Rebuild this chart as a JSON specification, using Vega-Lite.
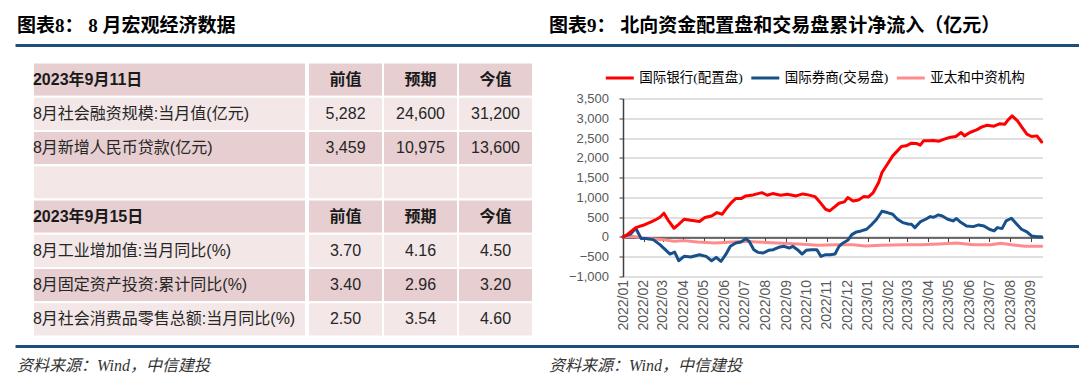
{
  "$schema": "https://vega.github.io/schema/vega-lite/v6.json",
  "padding": {"left": 15, "top": 8, "right": 0, "bottom": 0},
  "background": "white",
  "config": {"view": {"stroke": null}},
  "spacing": 8.5,
  "datasets": {
    "hdr": [
      {"p": "a", "t": "图表8： 8 月宏观经济数据"},
      {"p": "b", "t": "图表9： 北向资金配置盘和交易盘累计净流入（亿元）"}
    ],
    "ftr": [
      {"p": "a", "t": "资料来源：Wind，中信建投"},
      {"p": "b", "t": "资料来源：Wind，中信建投"}
    ],
    "cells": [
      {"r": 1, "c": "a", "t": "2023年9月11日", "h": 1}, {"r": 1, "c": "b", "t": "前值", "h": 1}, {"r": 1, "c": "c", "t": "预期", "h": 1}, {"r": 1, "c": "d", "t": "今值", "h": 1},
      {"r": 2, "c": "a", "t": "8月社会融资规模:当月值(亿元)"}, {"r": 2, "c": "b", "t": "5,282"}, {"r": 2, "c": "c", "t": "24,600"}, {"r": 2, "c": "d", "t": "31,200"},
      {"r": 3, "c": "a", "t": "8月新增人民币贷款(亿元)"}, {"r": 3, "c": "b", "t": "3,459"}, {"r": 3, "c": "c", "t": "10,975"}, {"r": 3, "c": "d", "t": "13,600"},
      {"r": 4, "c": "a", "t": ""}, {"r": 4, "c": "b", "t": ""}, {"r": 4, "c": "c", "t": ""}, {"r": 4, "c": "d", "t": ""},
      {"r": 5, "c": "a", "t": "2023年9月15日", "h": 1}, {"r": 5, "c": "b", "t": "前值", "h": 1}, {"r": 5, "c": "c", "t": "预期", "h": 1}, {"r": 5, "c": "d", "t": "今值", "h": 1},
      {"r": 6, "c": "a", "t": "8月工业增加值:当月同比(%)"}, {"r": 6, "c": "b", "t": "3.70"}, {"r": 6, "c": "c", "t": "4.16"}, {"r": 6, "c": "d", "t": "4.50"},
      {"r": 7, "c": "a", "t": "8月固定资产投资:累计同比(%)"}, {"r": 7, "c": "b", "t": "3.40"}, {"r": 7, "c": "c", "t": "2.96"}, {"r": 7, "c": "d", "t": "3.20"},
      {"r": 8, "c": "a", "t": "8月社会消费品零售总额:当月同比(%)"}, {"r": 8, "c": "b", "t": "2.50"}, {"r": 8, "c": "c", "t": "3.54"}, {"r": 8, "c": "d", "t": "4.60"}
    ],
    "flows": [
      {"d": "2022-01-01", "s": "亚太和中资机构", "v": 0},
      {"d": "2022-01-15", "s": "亚太和中资机构", "v": 17},
      {"d": "2022-02-04", "s": "亚太和中资机构", "v": -42},
      {"d": "2022-03-02", "s": "亚太和中资机构", "v": -68},
      {"d": "2022-03-18", "s": "亚太和中资机构", "v": -110},
      {"d": "2022-04-02", "s": "亚太和中资机构", "v": -93},
      {"d": "2022-04-22", "s": "亚太和中资机构", "v": -127},
      {"d": "2022-05-18", "s": "亚太和中资机构", "v": -152},
      {"d": "2022-06-13", "s": "亚太和中资机构", "v": -127},
      {"d": "2022-07-03", "s": "亚太和中资机构", "v": -110},
      {"d": "2022-07-19", "s": "亚太和中资机构", "v": -127},
      {"d": "2022-08-19", "s": "亚太和中资机构", "v": -152},
      {"d": "2022-09-18", "s": "亚太和中资机构", "v": -178},
      {"d": "2022-10-19", "s": "亚太和中资机构", "v": -212},
      {"d": "2022-11-14", "s": "亚太和中资机构", "v": -195},
      {"d": "2022-12-10", "s": "亚太和中资机构", "v": -195},
      {"d": "2022-12-28", "s": "亚太和中资机构", "v": -229},
      {"d": "2023-01-20", "s": "亚太和中资机构", "v": -212},
      {"d": "2023-02-25", "s": "亚太和中资机构", "v": -195},
      {"d": "2023-03-22", "s": "亚太和中资机构", "v": -195},
      {"d": "2023-04-17", "s": "亚太和中资机构", "v": -178},
      {"d": "2023-05-13", "s": "亚太和中资机构", "v": -152},
      {"d": "2023-06-07", "s": "亚太和中资机构", "v": -195},
      {"d": "2023-07-03", "s": "亚太和中资机构", "v": -195},
      {"d": "2023-07-18", "s": "亚太和中资机构", "v": -161},
      {"d": "2023-08-03", "s": "亚太和中资机构", "v": -195},
      {"d": "2023-08-23", "s": "亚太和中资机构", "v": -237},
      {"d": "2023-09-17", "s": "亚太和中资机构", "v": -237},

      {"d": "2022-01-01", "s": "国际券商(交易盘)", "v": 0},
      {"d": "2022-01-12", "s": "国际券商(交易盘)", "v": 70},
      {"d": "2022-01-20", "s": "国际券商(交易盘)", "v": 220},
      {"d": "2022-01-28", "s": "国际券商(交易盘)", "v": -40},
      {"d": "2022-02-04", "s": "国际券商(交易盘)", "v": -40},
      {"d": "2022-02-15", "s": "国际券商(交易盘)", "v": -68},
      {"d": "2022-02-25", "s": "国际券商(交易盘)", "v": -195},
      {"d": "2022-03-05", "s": "国际券商(交易盘)", "v": -322},
      {"d": "2022-03-12", "s": "国际券商(交易盘)", "v": -432},
      {"d": "2022-03-19", "s": "国际券商(交易盘)", "v": -381},
      {"d": "2022-03-25", "s": "国际券商(交易盘)", "v": -601},
      {"d": "2022-04-02", "s": "国际券商(交易盘)", "v": -491},
      {"d": "2022-04-12", "s": "国际券商(交易盘)", "v": -508},
      {"d": "2022-04-25", "s": "国际券商(交易盘)", "v": -449},
      {"d": "2022-05-05", "s": "国际券商(交易盘)", "v": -491},
      {"d": "2022-05-13", "s": "国际券商(交易盘)", "v": -601},
      {"d": "2022-05-20", "s": "国际券商(交易盘)", "v": -517},
      {"d": "2022-05-27", "s": "国际券商(交易盘)", "v": -618},
      {"d": "2022-06-03", "s": "国际券商(交易盘)", "v": -449},
      {"d": "2022-06-10", "s": "国际券商(交易盘)", "v": -237},
      {"d": "2022-06-18", "s": "国际券商(交易盘)", "v": -152},
      {"d": "2022-06-26", "s": "国际券商(交易盘)", "v": -127},
      {"d": "2022-07-03", "s": "国际券商(交易盘)", "v": -42},
      {"d": "2022-07-08", "s": "国际券商(交易盘)", "v": -110},
      {"d": "2022-07-15", "s": "国际券商(交易盘)", "v": -322},
      {"d": "2022-07-21", "s": "国际券商(交易盘)", "v": -390},
      {"d": "2022-07-29", "s": "国际券商(交易盘)", "v": -406},
      {"d": "2022-08-06", "s": "国际券商(交易盘)", "v": -339},
      {"d": "2022-08-13", "s": "国际券商(交易盘)", "v": -322},
      {"d": "2022-08-21", "s": "国际券商(交易盘)", "v": -263},
      {"d": "2022-08-29", "s": "国际券商(交易盘)", "v": -237},
      {"d": "2022-09-06", "s": "国际券商(交易盘)", "v": -280},
      {"d": "2022-09-11", "s": "国际券商(交易盘)", "v": -237},
      {"d": "2022-09-18", "s": "国际券商(交易盘)", "v": -322},
      {"d": "2022-09-25", "s": "国际券商(交易盘)", "v": -432},
      {"d": "2022-10-01", "s": "国际券商(交易盘)", "v": -339},
      {"d": "2022-10-09", "s": "国际券商(交易盘)", "v": -322},
      {"d": "2022-10-17", "s": "国际券商(交易盘)", "v": -322},
      {"d": "2022-10-23", "s": "国际券商(交易盘)", "v": -491},
      {"d": "2022-10-30", "s": "国际券商(交易盘)", "v": -449},
      {"d": "2022-11-06", "s": "国际券商(交易盘)", "v": -449},
      {"d": "2022-11-13", "s": "国际券商(交易盘)", "v": -432},
      {"d": "2022-11-19", "s": "国际券商(交易盘)", "v": -237},
      {"d": "2022-11-25", "s": "国际券商(交易盘)", "v": -152},
      {"d": "2022-12-02", "s": "国际券商(交易盘)", "v": -85},
      {"d": "2022-12-08", "s": "国际券商(交易盘)", "v": 59},
      {"d": "2022-12-15", "s": "国际券商(交易盘)", "v": 127},
      {"d": "2022-12-22", "s": "国际券商(交易盘)", "v": 152},
      {"d": "2022-12-30", "s": "国际券商(交易盘)", "v": 194},
      {"d": "2023-01-07", "s": "国际券商(交易盘)", "v": 320},
      {"d": "2023-01-14", "s": "国际券商(交易盘)", "v": 447},
      {"d": "2023-01-22", "s": "国际券商(交易盘)", "v": 650},
      {"d": "2023-01-30", "s": "国际券商(交易盘)", "v": 616},
      {"d": "2023-02-07", "s": "国际券商(交易盘)", "v": 574},
      {"d": "2023-02-14", "s": "国际券商(交易盘)", "v": 447},
      {"d": "2023-02-22", "s": "国际券商(交易盘)", "v": 363},
      {"d": "2023-03-02", "s": "国际券商(交易盘)", "v": 329},
      {"d": "2023-03-07", "s": "国际券商(交易盘)", "v": 320},
      {"d": "2023-03-12", "s": "国际券商(交易盘)", "v": 236},
      {"d": "2023-03-20", "s": "国际券商(交易盘)", "v": 380},
      {"d": "2023-03-28", "s": "国际券商(交易盘)", "v": 447},
      {"d": "2023-04-04", "s": "国际券商(交易盘)", "v": 514},
      {"d": "2023-04-09", "s": "国际券商(交易盘)", "v": 498},
      {"d": "2023-04-16", "s": "国际券商(交易盘)", "v": 557},
      {"d": "2023-04-22", "s": "国际券商(交易盘)", "v": 531},
      {"d": "2023-04-30", "s": "国际券商(交易盘)", "v": 447},
      {"d": "2023-05-08", "s": "国际券商(交易盘)", "v": 405},
      {"d": "2023-05-13", "s": "国际券商(交易盘)", "v": 464},
      {"d": "2023-05-20", "s": "国际券商(交易盘)", "v": 363},
      {"d": "2023-05-28", "s": "国际券商(交易盘)", "v": 278},
      {"d": "2023-06-07", "s": "国际券商(交易盘)", "v": 261},
      {"d": "2023-06-15", "s": "国际券商(交易盘)", "v": 304},
      {"d": "2023-06-23", "s": "国际券商(交易盘)", "v": 278},
      {"d": "2023-07-01", "s": "国际券商(交易盘)", "v": 194},
      {"d": "2023-07-08", "s": "国际券商(交易盘)", "v": 152},
      {"d": "2023-07-13", "s": "国际券商(交易盘)", "v": 236},
      {"d": "2023-07-20", "s": "国际券商(交易盘)", "v": 211},
      {"d": "2023-07-26", "s": "国际券商(交易盘)", "v": 405},
      {"d": "2023-08-03", "s": "国际券商(交易盘)", "v": 472},
      {"d": "2023-08-11", "s": "国际券商(交易盘)", "v": 320},
      {"d": "2023-08-18", "s": "国际券商(交易盘)", "v": 194},
      {"d": "2023-08-26", "s": "国际券商(交易盘)", "v": 127},
      {"d": "2023-09-02", "s": "国际券商(交易盘)", "v": 25},
      {"d": "2023-09-10", "s": "国际券商(交易盘)", "v": 8},
      {"d": "2023-09-17", "s": "国际券商(交易盘)", "v": 8},

      {"d": "2022-01-01", "s": "国际银行(配置盘)", "v": 0},
      {"d": "2022-01-08", "s": "国际银行(配置盘)", "v": 70},
      {"d": "2022-01-20", "s": "国际银行(配置盘)", "v": 236},
      {"d": "2022-01-31", "s": "国际银行(配置盘)", "v": 295},
      {"d": "2022-02-12", "s": "国际银行(配置盘)", "v": 380},
      {"d": "2022-02-20", "s": "国际银行(配置盘)", "v": 447},
      {"d": "2022-02-25", "s": "国际银行(配置盘)", "v": 498},
      {"d": "2022-03-03", "s": "国际银行(配置盘)", "v": 600},
      {"d": "2022-03-10", "s": "国际银行(配置盘)", "v": 405},
      {"d": "2022-03-18", "s": "国际银行(配置盘)", "v": 220},
      {"d": "2022-03-25", "s": "国际银行(配置盘)", "v": 320},
      {"d": "2022-04-02", "s": "国际银行(配置盘)", "v": 447},
      {"d": "2022-04-12", "s": "国际银行(配置盘)", "v": 420},
      {"d": "2022-04-25", "s": "国际银行(配置盘)", "v": 390},
      {"d": "2022-05-03", "s": "国际银行(配置盘)", "v": 490},
      {"d": "2022-05-13", "s": "国际银行(配置盘)", "v": 530},
      {"d": "2022-05-21", "s": "国际银行(配置盘)", "v": 615},
      {"d": "2022-05-29", "s": "国际银行(配置盘)", "v": 575},
      {"d": "2022-06-05", "s": "国际银行(配置盘)", "v": 740},
      {"d": "2022-06-13", "s": "国际银行(配置盘)", "v": 895},
      {"d": "2022-06-18", "s": "国际银行(配置盘)", "v": 970},
      {"d": "2022-06-26", "s": "国际银行(配置盘)", "v": 970},
      {"d": "2022-07-03", "s": "国际银行(配置盘)", "v": 1037},
      {"d": "2022-07-14", "s": "国际银行(配置盘)", "v": 1063},
      {"d": "2022-07-27", "s": "国际银行(配置盘)", "v": 1120},
      {"d": "2022-08-04", "s": "国际银行(配置盘)", "v": 1054},
      {"d": "2022-08-12", "s": "国际银行(配置盘)", "v": 1096},
      {"d": "2022-08-24", "s": "国际银行(配置盘)", "v": 1054},
      {"d": "2022-09-03", "s": "国际银行(配置盘)", "v": 1080},
      {"d": "2022-09-16", "s": "国际银行(配置盘)", "v": 1037},
      {"d": "2022-09-26", "s": "国际银行(配置盘)", "v": 1088},
      {"d": "2022-10-04", "s": "国际银行(配置盘)", "v": 1063},
      {"d": "2022-10-14", "s": "国际银行(配置盘)", "v": 1020},
      {"d": "2022-10-22", "s": "国际银行(配置盘)", "v": 869},
      {"d": "2022-10-30", "s": "国际银行(配置盘)", "v": 700},
      {"d": "2022-11-05", "s": "国际银行(配置盘)", "v": 658},
      {"d": "2022-11-11", "s": "国际银行(配置盘)", "v": 742},
      {"d": "2022-11-19", "s": "国际银行(配置盘)", "v": 852},
      {"d": "2022-11-27", "s": "国际银行(配置盘)", "v": 886},
      {"d": "2022-12-02", "s": "国际银行(配置盘)", "v": 995},
      {"d": "2022-12-10", "s": "国际银行(配置盘)", "v": 911},
      {"d": "2022-12-18", "s": "国际银行(配置盘)", "v": 936},
      {"d": "2022-12-26", "s": "国际银行(配置盘)", "v": 1020},
      {"d": "2023-01-02", "s": "国际银行(配置盘)", "v": 1012},
      {"d": "2023-01-09", "s": "国际银行(配置盘)", "v": 1122},
      {"d": "2023-01-17", "s": "国际银行(配置盘)", "v": 1375},
      {"d": "2023-01-22", "s": "国际银行(配置盘)", "v": 1628},
      {"d": "2023-01-30", "s": "国际银行(配置盘)", "v": 1839},
      {"d": "2023-02-07", "s": "国际银行(配置盘)", "v": 2049},
      {"d": "2023-02-14", "s": "国际银行(配置盘)", "v": 2176},
      {"d": "2023-02-20", "s": "国际银行(配置盘)", "v": 2286},
      {"d": "2023-02-27", "s": "国际银行(配置盘)", "v": 2303},
      {"d": "2023-03-07", "s": "国际银行(配置盘)", "v": 2370},
      {"d": "2023-03-15", "s": "国际银行(配置盘)", "v": 2361},
      {"d": "2023-03-20", "s": "国际银行(配置盘)", "v": 2320},
      {"d": "2023-03-25", "s": "国际银行(配置盘)", "v": 2429},
      {"d": "2023-04-02", "s": "国际银行(配置盘)", "v": 2429},
      {"d": "2023-04-09", "s": "国际银行(配置盘)", "v": 2437},
      {"d": "2023-04-17", "s": "国际银行(配置盘)", "v": 2420},
      {"d": "2023-04-25", "s": "国际银行(配置盘)", "v": 2471},
      {"d": "2023-05-02", "s": "国际银行(配置盘)", "v": 2513},
      {"d": "2023-05-12", "s": "国际银行(配置盘)", "v": 2539},
      {"d": "2023-05-20", "s": "国际银行(配置盘)", "v": 2640},
      {"d": "2023-05-25", "s": "国际银行(配置盘)", "v": 2555},
      {"d": "2023-06-02", "s": "国际银行(配置盘)", "v": 2640},
      {"d": "2023-06-12", "s": "国际银行(配置盘)", "v": 2707},
      {"d": "2023-06-20", "s": "国际银行(配置盘)", "v": 2783},
      {"d": "2023-06-28", "s": "国际银行(配置盘)", "v": 2825},
      {"d": "2023-07-08", "s": "国际银行(配置盘)", "v": 2800},
      {"d": "2023-07-16", "s": "国际银行(配置盘)", "v": 2859},
      {"d": "2023-07-24", "s": "国际银行(配置盘)", "v": 2850},
      {"d": "2023-07-29", "s": "国际银行(配置盘)", "v": 2960},
      {"d": "2023-08-04", "s": "国际银行(配置盘)", "v": 3061},
      {"d": "2023-08-12", "s": "国际银行(配置盘)", "v": 2935},
      {"d": "2023-08-19", "s": "国际银行(配置盘)", "v": 2766},
      {"d": "2023-08-26", "s": "国际银行(配置盘)", "v": 2598},
      {"d": "2023-09-02", "s": "国际银行(配置盘)", "v": 2539},
      {"d": "2023-09-10", "s": "国际银行(配置盘)", "v": 2555},
      {"d": "2023-09-17", "s": "国际银行(配置盘)", "v": 2400}
    ]
  },
  "vconcat": [
    {
      "width": 1064,
      "height": 44.5,
      "data": {"name": "hdr"},
      "mark": {"type": "text", "align": "left", "baseline": "middle", "dx": 2, "dy": -4.25, "font": "Liberation Serif, Noto Sans CJK SC", "fontSize": 19, "fontWeight": "bold", "color": "#000000"},
      "encoding": {
        "x": {
          "field": "p", "type": "nominal", "bandPosition": 0,
          "scale": {"type": "band", "paddingInner": 0, "paddingOuter": 0},
          "axis": {"orient": "bottom", "offset": -7.5, "labels": false, "ticks": false, "domain": true, "domainColor": "#1F4E79", "domainWidth": 3, "title": null, "grid": false}
        },
        "text": {"field": "t"}
      }
    },
    {
      "spacing": 0,
      "resolve": {"scale": {"color": "independent", "strokeWidth": "independent"}, "legend": {"color": "independent"}},
      "hconcat": [
        {
          "width": 291,
          "height": 274,
          "data": {"name": "cells"},
          "transform": [{"filter": "datum.c == 'a'"}],
          "layer": [
            {
              "mark": {"type": "rect", "stroke": "white", "strokeWidth": 2},
              "encoding": {
                "x": {"field": "c", "type": "nominal", "scale": {"type": "band", "paddingInner": 0, "paddingOuter": 0.0329, "align": 1}, "axis": null},
                "y": {"field": "r", "type": "ordinal", "scale": {"type": "band", "paddingInner": 0, "paddingOuter": 0}, "axis": null},
                "color": {"field": "r", "type": "ordinal", "scale": {"domain": [1, 2, 3, 4, 5, 6, 7, 8], "range": ["#E6CED1", "#F3E7E8", "#E6CED1", "#F3E7E8", "#E6CED1", "#F3E7E8", "#E6CED1", "#F3E7E8"]}, "legend": null}
              }
            },
            {
              "transform": [{"filter": "!datum.h"}],
              "mark": {"type": "text", "align": "left", "baseline": "middle", "font": "Liberation Sans, Noto Sans CJK SC", "fontSize": 16, "color": "#262626"},
              "encoding": {
                "x": {"field": "c", "type": "nominal", "bandPosition": 0, "axis": null},
                "y": {"field": "r", "type": "ordinal", "axis": null},
                "text": {"field": "t"}
              }
            },
            {
              "transform": [{"filter": "datum.h"}],
              "mark": {"type": "text", "align": "left", "baseline": "middle", "font": "Liberation Sans, Noto Sans CJK SC", "fontSize": 16, "fontWeight": "bold", "color": "#1a1a1a"},
              "encoding": {
                "x": {"field": "c", "type": "nominal", "bandPosition": 0, "axis": null},
                "y": {"field": "r", "type": "ordinal", "axis": null},
                "text": {"field": "t"}
              }
            }
          ]
        },
        {
          "width": 259.3,
          "height": 274,
          "data": {"name": "cells"},
          "transform": [{"filter": "datum.c != 'a'"}],
          "layer": [
            {
              "mark": {"type": "rect", "stroke": "white", "strokeWidth": 2},
              "encoding": {
                "x": {"field": "c", "type": "nominal", "scale": {"type": "band", "domain": ["b", "c", "d"], "paddingInner": 0, "paddingOuter": 0.228667, "align": 0}, "axis": null},
                "y": {"field": "r", "type": "ordinal", "scale": {"type": "band", "paddingInner": 0, "paddingOuter": 0}, "axis": null},
                "color": {"field": "r", "type": "ordinal", "scale": {"domain": [1, 2, 3, 4, 5, 6, 7, 8], "range": ["#E6CED1", "#F3E7E8", "#E6CED1", "#F3E7E8", "#E6CED1", "#F3E7E8", "#E6CED1", "#F3E7E8"]}, "legend": null}
              }
            },
            {
              "transform": [{"filter": "!datum.h"}],
              "mark": {"type": "text", "align": "center", "baseline": "middle", "font": "Liberation Sans, Noto Sans CJK SC", "fontSize": 16, "color": "#262626"},
              "encoding": {
                "x": {"field": "c", "type": "nominal", "bandPosition": 0.5, "axis": null},
                "y": {"field": "r", "type": "ordinal", "axis": null},
                "text": {"field": "t"}
              }
            },
            {
              "transform": [{"filter": "datum.h"}],
              "mark": {"type": "text", "align": "center", "baseline": "middle", "font": "Liberation Sans, Noto Sans CJK SC", "fontSize": 16, "fontWeight": "bold", "color": "#1a1a1a"},
              "encoding": {
                "x": {"field": "c", "type": "nominal", "bandPosition": 0.5, "axis": null},
                "y": {"field": "r", "type": "ordinal", "axis": null},
                "text": {"field": "t"}
              }
            }
          ]
        },
        {
          "width": 420,
          "height": 214,
          "data": {"name": "flows"},
          "mark": {"type": "line", "strokeJoin": "round", "strokeCap": "round"},
          "encoding": {
            "x": {
              "field": "d", "type": "temporal",
              "scale": {"type": "utc", "nice": false, "domain": [{"year": 2022, "month": 1, "date": 1, "utc": true}, {"year": 2023, "month": 9, "date": 19, "utc": true}]},
              "axis": {"orient": "bottom", "offset": -39, "format": "%Y/%m", "tickCount": {"interval": "month", "step": 1}, "labelAngle": 270, "labelAlign": "right", "labelBaseline": "middle", "labelPadding": 38, "labelFont": "Liberation Sans", "labelFontSize": 14, "labelColor": "#595959", "labelOverlap": false, "labelBound": false, "labelFlush": false, "domain": true, "domainColor": "#404040", "domainWidth": 1.5, "ticks": true, "tickColor": "#404040", "tickSize": 4, "grid": false, "title": null}
            },
            "y": {
              "field": "v", "type": "quantitative",
              "scale": {"domain": [-1000, 3500], "range": [214, 36], "nice": false, "zero": false},
              "axis": {"values": [-1000, -500, 0, 500, 1000, 1500, 2000, 2500, 3000, 3500], "format": ",.0f", "title": null, "grid": true, "gridDash": [1, 1], "gridColor": "#7f7f7f", "gridWidth": 1, "domain": true, "domainColor": "#404040", "domainWidth": 1.5, "ticks": true, "tickSize": 4, "tickColor": "#404040", "labelPadding": 10.5, "labelFont": "Liberation Sans", "labelFontSize": 13, "labelColor": "#595959"}
            },
            "color": {
              "field": "s", "type": "nominal",
              "scale": {"domain": ["国际银行(配置盘)", "国际券商(交易盘)", "亚太和中资机构"], "range": ["#FF0000", "#17508A", "#FF8C8C"]},
              "legend": {"orient": "none", "legendX": -18.7, "legendY": 0, "direction": "horizontal", "title": null, "symbolType": "stroke", "symbolSize": 784, "symbolStrokeWidth": 3, "labelOffset": 4, "columnPadding": 1.5, "labelFont": "Liberation Serif, Noto Sans CJK SC", "labelFontSize": 13.5, "labelColor": "#000000", "labelLimit": 300}
            },
            "strokeWidth": {
              "field": "s", "type": "nominal",
              "scale": {"domain": ["国际银行(配置盘)", "国际券商(交易盘)", "亚太和中资机构"], "range": [3, 3, 2.5]},
              "legend": null
            }
          }
        }
      ]
    },
    {
      "width": 1064,
      "height": 40,
      "data": {"name": "ftr"},
      "mark": {"type": "text", "align": "left", "baseline": "middle", "dx": 2, "font": "Liberation Serif, Noto Sans CJK SC", "fontSize": 16, "fontStyle": "italic", "color": "#333333"},
      "encoding": {
        "x": {
          "field": "p", "type": "nominal", "bandPosition": 0,
          "scale": {"type": "band", "paddingInner": 0, "paddingOuter": 0},
          "axis": {"orient": "top", "offset": 0, "labels": false, "ticks": false, "domain": true, "domainColor": "#1F4E79", "domainWidth": 3, "title": null, "grid": false}
        },
        "text": {"field": "t"}
      }
    }
  ]
}
